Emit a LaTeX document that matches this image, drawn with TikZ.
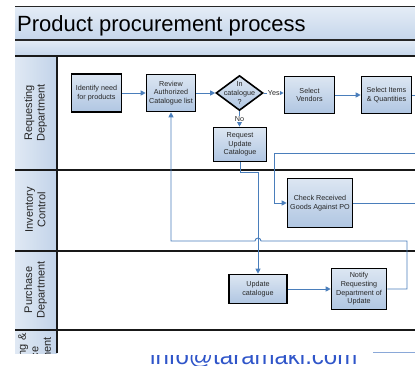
\documentclass[tikz,border=0pt]{standalone}
\usepackage{fontspec}
\setmainfont{Liberation Sans}
\usetikzlibrary{shapes.geometric,arrows.meta,calc}
\definecolor{boxtop}{HTML}{DCE6F2}
\definecolor{boxbot}{HTML}{B0C6E2}
\definecolor{titletop}{HTML}{E4ECF6}
\definecolor{titlebot}{HTML}{C5D6EB}
\definecolor{hdl}{HTML}{E0E9F4}
\definecolor{hdr}{HTML}{C2D3E9}
\definecolor{flowblue}{HTML}{4A7EBB}
\definecolor{txtgray}{HTML}{262626}
\definecolor{wmblue}{HTML}{2F55C9}
\definecolor{wmline}{HTML}{8AA8D8}
\begin{document}
\begin{tikzpicture}[x=1pt,y=-1pt,
  box/.style={draw=black,line width=1.6pt,top color=boxtop,bottom color=boxbot,align=center,
    font=\fontsize{7.2}{8.7}\selectfont,text=txtgray,inner sep=1pt},
  dia/.style={draw=black,line width=1.6pt,diamond,top color=boxtop,bottom color=boxbot,
    minimum width=47pt,minimum height=35pt,inner sep=0pt},
  lbl/.style={font=\fontsize{7.2}{8.7}\selectfont,text=txtgray,align=center},
  flow/.style={draw=flowblue,line width=0.9pt},
  arr/.style={flow,-{Triangle[length=5pt,width=5pt]}},
  lanetxt/.style={rotate=90,align=center,font=\fontsize{11}{12.5}\selectfont,text=txtgray},
  laneline/.style={line width=1.8pt,draw=black!90}]
\useasboundingbox (0,0) rectangle (415,366);

% watermark (its top is hidden by the diagram)
\node[anchor=base west,font=\fontsize{24}{24}\selectfont,text=wmblue,inner sep=0pt] (wm) at (150,364) {info@taramaki.com};
\fill[white] (57,330) rectangle (415,354.5);
\draw[draw=wmline,line width=1pt] (373,352.5) -- (415,352.5);

% bands
\shade[top color=titletop,bottom color=titlebot] (15,7) rectangle (415,40);
\shade[top color=titletop,bottom color=titlebot] (15,40) rectangle (415,56);
\shade[left color=hdl,right color=hdr] (15,56) rectangle (57,353);

% lane titles
\node[lanetxt] (l1) at (35.5,113) {Requesting\\Department};
\node[lanetxt] (l2) at (35.5,210) {Inventory\\Control};
\node[lanetxt] (l3) at (35.5,290) {Purchase\\Department};
\begin{scope}
\clip (15,330) rectangle (57,353);
\node[lanetxt] (l4) at (35.5,366) {Accounting \&\\Finance\\Department};
\end{scope}

% lines
\draw[line width=1pt,black!85] (15,7) -- (415,7);
\draw[line width=1.2pt,black!85] (15,40) -- (415,40);
\draw[laneline] (15,56) -- (415,56);
\draw[laneline] (15,170) -- (415,170);
\draw[laneline] (15,251) -- (415,251);
\draw[laneline] (15,330) -- (415,330);
\draw[laneline] (57,56) -- (57,353);

% title
\node[anchor=base west,font=\fontsize{22}{22}\selectfont,inner sep=0pt,text=black] (title) at (17,32) {Product procurement process};

% nodes
\node[box,minimum width=50pt,minimum height=38pt] (idn) at (96.5,93) {Identify need\\for products};
\node[box,minimum width=49pt,minimum height=37pt] (rev) at (171,93) {Review\\Authorized\\Catalogue list};
\node[dia] (dec) at (239.5,93) {};
\node[lbl] (dect) at (dec) {In\\catalogue\\?};
\node[box,minimum width=50pt,minimum height=37pt] (sv) at (309.5,95) {Select\\Vendors};
\node[box,minimum width=50pt,minimum height=37pt] (si) at (386.5,95) {Select Items\\\& Quantities};
\node[box,minimum width=53pt,minimum height=34pt] (ru) at (240,144.5) {Request\\Update\\Catalogue};
\node[box,minimum width=65pt,minimum height=49pt] (cr) at (320,203) {Check Received\\Goods Against PO};
\node[box,minimum width=58pt,minimum height=29pt] (uc) at (258,289) {Update\\catalogue};
\node[box,minimum width=55pt,minimum height=41pt] (nt) at (359,289) {Notify\\Requesting\\Department of\\Update};

% free ends / bends
\coordinate (e1) at (415,95);
\coordinate (e2) at (415,153);
\coordinate (c1) at (274,153);
\coordinate (e3) at (415,203);
\coordinate (k1) at (407,241);
\coordinate (k2) at (171,241);

% connectors
\draw[arr] (idn) -- (rev);
\draw[arr] (rev) -- (dec.west);
\draw[arr] (dec.east) -- node[lbl,fill=white,inner sep=0.5pt] (yes) {Yes} (dec.east -| sv.west);
\draw[arr] (sv) -- (si);
\draw[flow] (si.east) -- (e1);
\draw[arr] (dec.south) -- node[lbl,fill=white,inner sep=0.5pt] (no) {No} (dec.south |- ru.north);
\draw[arr] (e2) -- (c1) |- (cr.west);
\draw[flow] (cr.east) -- (e3);
\draw[arr] (ru.south) -- ++(0,10) -| (uc.north);
\draw[arr] (uc) -- (nt);
\draw[arr] (nt.east) -| (k1) -- (261,241) arc[start angle=0,end angle=180,radius=3pt] -- (k2) -- (rev.south);
\end{tikzpicture}
\end{document}
